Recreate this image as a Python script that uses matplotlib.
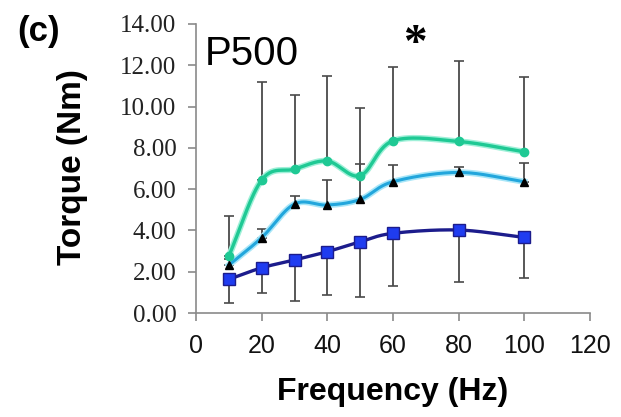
import numpy as np
import matplotlib
matplotlib.use("Agg")
import matplotlib.pyplot as plt

# data (Hz, Nm)
freq = [10, 20, 30, 40, 50, 60, 80, 100]
torque_green = [2.76, 6.44, 6.97, 7.36, 6.65, 8.34, 8.31, 7.81]
torque_cyan = [2.32, 3.65, 5.28, 5.23, 5.50, 6.36, 6.81, 6.36]
torque_blue = [1.63, 2.19, 2.57, 2.97, 3.45, 3.86, 4.02, 3.66]
err_green_up = [1.94, 4.77, 3.59, 4.12, 3.30, 3.60, 3.92, 3.61]
err_cyan_up = [0.30, 0.41, 0.40, 1.21, 1.74, 0.82, 0.27, 0.91]
err_blue_down = [1.16, 1.22, 1.99, 2.12, 2.68, 2.54, 2.52, 1.96]

yticks = [0, 2, 4, 6, 8, 10, 12, 14]
xticks = [0, 20, 40, 60, 80, 100, 120]


def smooth(x, y, n=30):
    """Catmull-Rom curve through the points, like Excel's smoothed line"""
    x = np.asarray(x, float)
    y = np.asarray(y, float)
    px = np.concatenate([[2 * x[0] - x[1]], x, [2 * x[-1] - x[-2]]])
    py = np.concatenate([[2 * y[0] - y[1]], y, [2 * y[-1] - y[-2]]])
    xs, ys = [], []
    t = np.linspace(0, 1, n)
    for i in range(1, len(px) - 2):
        for arr, out in ((px, xs), (py, ys)):
            p0, p1, p2, p3 = arr[i - 1:i + 3]
            out.append(0.5 * ((2 * p1) + (-p0 + p2) * t
                              + (2 * p0 - 5 * p1 + 4 * p2 - p3) * t ** 2
                              + (-p0 + 3 * p1 - 3 * p2 + p3) * t ** 3))
    return np.concatenate(xs), np.concatenate(ys)


fig = plt.figure(figsize=(6.21, 4.17), dpi=100)
ax = fig.add_axes([196 / 621, 1 - 313 / 417, 394 / 621, 289 / 417])

zeros = [0] * len(freq)
ebar = dict(fmt='none', ecolor='#4a4a4a', elinewidth=1.3, capsize=3.5, capthick=1.2, zorder=2)
ax.errorbar(freq, torque_green, yerr=[zeros, err_green_up], **ebar)
ax.errorbar(freq, torque_blue, yerr=[err_blue_down, zeros], **ebar)
ax.errorbar(freq, torque_cyan, yerr=[zeros, err_cyan_up], **ebar)

# green series
sx, sy = smooth(freq, torque_green)
ax.plot(sx, sy, color='#9ff0d8', lw=4.5, zorder=3)
ax.plot(sx, sy, color='#1fc994', lw=2.4, zorder=3)
ax.plot(freq, torque_green, 'o', color='#1fc994', ms=6, zorder=4)

# cyan series
sx, sy = smooth(freq, torque_cyan)
ax.plot(sx, sy, color='#a8e6f8', lw=4.5, zorder=3)
ax.plot(sx, sy, color='#22a6dc', lw=2.2, zorder=3)
ax.plot(freq, torque_cyan, '^', color='black', ms=6, zorder=4)

# blue series
sx, sy = smooth(freq, torque_blue)
ax.plot(sx, sy, color='#1c1c8c', lw=2.4, zorder=3)
ax.plot(freq, torque_blue, 's', color='#1f3cf0', mec='#1c1c8c', mew=1, ms=9, zorder=4)

ax.set_xlim(0, 120)
ax.set_ylim(0, 14)
ax.set_xticks(xticks)
ax.set_yticks(yticks)
ax.set_yticklabels([f'{v:.2f}' for v in yticks], family='Liberation Serif', fontsize=18)
ax.set_xticklabels([str(v) for v in xticks], family='Liberation Sans', fontsize=18)
for s in ('top', 'right'):
    ax.spines[s].set_visible(False)
for s in ('left', 'bottom'):
    ax.spines[s].set_color('#8a8a8a')
    ax.spines[s].set_linewidth(1.2)
ax.tick_params(axis='both', colors='#8a8a8a', length=6, width=1.2)
ax.tick_params(axis='y', pad=8, labelcolor='#222222')
ax.tick_params(axis='x', pad=9, labelcolor='#111111')

ax.set_xlabel('Frequency (Hz)', family='Liberation Sans', fontsize=23, fontweight='bold', labelpad=14)
fig.text(73 / 621, 1 - 167 / 417, 'Torque (Nm)', rotation=90, family='Liberation Sans',
         fontsize=24, fontweight='bold', ha='center', va='center')
fig.text(17 / 621, 1 - 32 / 417, '(c)', family='Liberation Sans', fontsize=25,
         fontweight='bold', ha='left', va='center')
fig.text(205 / 621, 1 - 54 / 417, 'P500', family='Liberation Sans', fontsize=29,
         ha='left', va='center')
fig.text(415 / 621, 1 - 45 / 417, '*', family='Liberation Serif', fontsize=34,
         fontweight='bold', ha='center', va='center')

fig.savefig('out.png', dpi=100)
